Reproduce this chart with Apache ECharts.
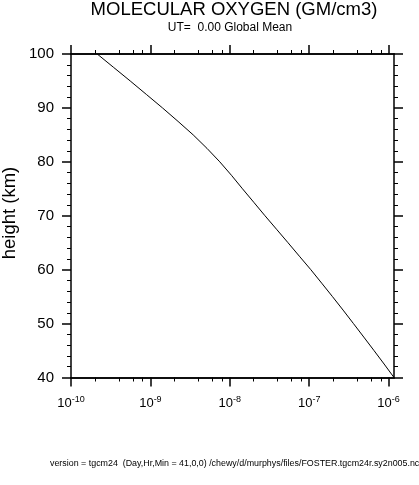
<!DOCTYPE html>
<html>
<head>
<meta charset="utf-8">
<script src="https://cdn.jsdelivr.net/npm/echarts@6/dist/echarts.min.js"></script>
<style>
html,body{margin:0;padding:0;background:#fff;}
#c{width:419px;height:485px;}
</style>
</head>
<body>
<div id="c"></div>
<script>
// Data
const heights = [100, 97.5, 95, 92.5, 90, 87.5, 85, 82.5, 80, 77.5, 75, 72.5, 70, 67.5, 65, 62.5, 60, 57.5, 55, 52.5, 50, 47.5, 45, 42.5, 40];
const o2Density = [2.14e-10, 3.45e-10, 5.57e-10, 8.90e-10, 1.42e-9, 2.23e-9, 3.46e-9, 5.16e-9, 7.48e-9, 1.05e-8, 1.445e-8, 2.005e-8, 2.776e-8, 3.876e-8, 5.41e-8, 7.52e-8, 1.048e-7, 1.437e-7, 1.966e-7, 2.673e-7, 3.61e-7, 4.87e-7, 6.55e-7, 8.78e-7, 1.17e-6];
const xMajorTicks = [1e-10, 1e-9, 1e-8, 1e-7, 1e-6];
const xMinorTicks = [2e-10, 4e-10, 6e-10, 8e-10, 2e-9, 4e-9, 6e-9, 8e-9, 2e-8, 4e-8, 6e-8, 8e-8, 2e-7, 4e-7, 6e-7, 8e-7];
const xMin = 1e-10, xMax = 1.17e-6;
const yMin = 40, yMax = 100, yStep = 10;

const titleText = 'MOLECULAR OXYGEN (GM/cm3)';
const subText = 'UT=  0.00 Global Mean';
const yName = 'height (km)';
const footer = 'version = tgcm24  (Day,Hr,Min = 41,0,0) /chewy/d/murphys/files/FOSTER.tgcm24r.sy2n005.nc';

const FONT = "'Liberation Sans', Arial, Helvetica, sans-serif";
const chart = echarts.init(document.getElementById('c'), null, {renderer: 'canvas'});

const axisLine = {show: true, onZero: false, lineStyle: {color: '#000', width: 1.5}};
function xAxisBase(pos, ticks, len, width, labels) {
  return {
    type: 'log', logBase: 10, position: pos, min: xMin, max: xMax, gridIndex: 0,
    axisLine: axisLine,
    axisTick: {show: true, inside: false, length: len, customValues: ticks, lineStyle: {color: '#000', width: width}},
    axisLabel: labels ? {
      show: true, margin: 18, customValues: ticks,
      formatter: function (v) {
        const e = Math.round(Math.log10(v));
        return '{b|10}{s|' + e + '}';
      },
      rich: {
        b: {fontFamily: FONT, fontSize: 13, lineHeight: 16, color: '#000'},
        s: {fontFamily: FONT, fontSize: 9, lineHeight: 9, verticalAlign: 'top', color: '#000'}
      }
    } : {show: false},
    splitLine: {show: false}, minorTick: {show: false}, minorSplitLine: {show: false}
  };
}
function yAxisBase(pos, labels) {
  return {
    type: 'value', position: pos, min: yMin, max: yMax, interval: yStep, gridIndex: 0,
    axisLine: axisLine,
    axisTick: {show: true, inside: false, length: 9, lineStyle: {color: '#000', width: 1.5}},
    minorTick: {show: true, splitNumber: 5, length: 4, lineStyle: {color: '#000', width: 1}},
    axisLabel: labels ? {show: true, margin: 17, fontFamily: FONT, fontSize: 15, color: '#000'} : {show: false},
    splitLine: {show: false}
  };
}

const option = {
  animation: false,
  backgroundColor: '#fff',
  grid: {left: 71, right: 25, top: 54, bottom: 107.5, containLabel: false},
  xAxis: [
    xAxisBase('bottom', xMajorTicks, 9, 1.5, true),
    xAxisBase('bottom', xMinorTicks, 4, 1, false),
    xAxisBase('top', xMajorTicks, 9, 1.5, false),
    xAxisBase('top', xMinorTicks, 4, 1, false)
  ],
  yAxis: [yAxisBase('left', true), yAxisBase('right', false)],
  series: [{
    type: 'line', xAxisIndex: 0, yAxisIndex: 0,
    data: heights.map((h, i) => [o2Density[i], h]),
    showSymbol: false, symbol: 'none', smooth: false,
    lineStyle: {color: '#000', width: 1}
  }],
  graphic: [
    {type: 'text', x: 234, y: 10, style: {text: titleText, font: '18.5px ' + FONT, fill: '#000', align: 'center', verticalAlign: 'middle'}},
    {type: 'text', x: 230, y: 28, style: {text: subText, font: '12px ' + FONT, fill: '#000', align: 'center', verticalAlign: 'middle'}},
    {type: 'text', x: 10, y: 213, rotation: Math.PI / 2, style: {text: yName, font: '18.5px ' + FONT, fill: '#000', align: 'center', verticalAlign: 'middle'}},
    {type: 'text', x: 50, y: 464, style: {text: footer, font: '8.9px ' + FONT, fill: '#000', align: 'left', verticalAlign: 'middle'}}
  ]
};
chart.setOption(option);
</script>
</body>
</html>
